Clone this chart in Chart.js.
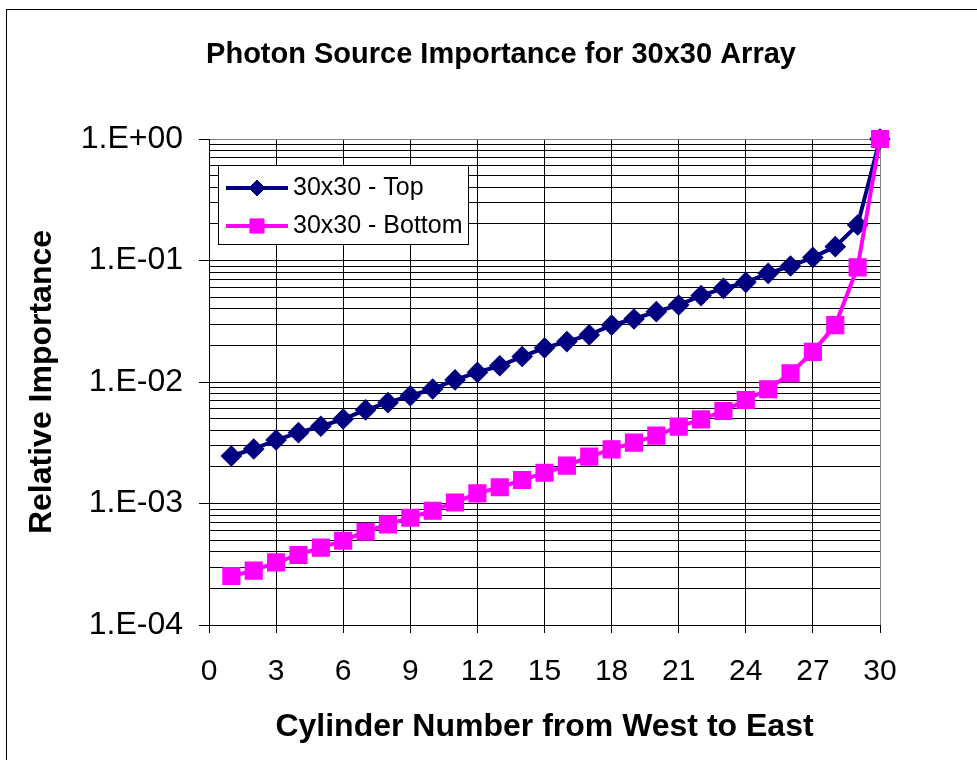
<!DOCTYPE html>
<html lang="en">

<head>
    <meta charset="UTF-8">
    <title>Photon Source Importance for 30x30 Array</title>
    <script src="https://cdn.jsdelivr.net/npm/chart.js"></script>
    <style>
        html, body { margin: 0; padding: 0; background: #fff; overflow: hidden; }
        #wrap { position: relative; width: 977px; height: 760px; }
        #frame {
            position: absolute; left: 6px; top: 9px; width: 1200px; height: 1000px;
            border: 1px solid #000; pointer-events: none;
        }
        canvas { position: absolute; left: 0; top: 0; }
    </style>
</head>

<body>
    <div id="wrap">
        <div id="frame"></div>
        <canvas id="importanceChart" width="977" height="760"></canvas>
    </div>

    <script>
        // Data
        const CHART_TITLE = 'Photon Source Importance for 30x30 Array';
        const X_TITLE = 'Cylinder Number from West to East';
        const Y_TITLE = 'Relative Importance';

        const CYLINDER = [1, 2, 3, 4, 5, 6, 7, 8, 9, 10, 11, 12, 13, 14, 15,
            16, 17, 18, 19, 20, 21, 22, 23, 24, 25, 26, 27, 28, 29, 30];

        const TOP = [0.00246, 0.00281, 0.00333, 0.00383, 0.00432, 0.00496, 0.00589, 0.00676, 0.00771, 0.00875,
            0.0104, 0.0120, 0.0136, 0.0162, 0.0191, 0.0215, 0.0244, 0.0294, 0.0330, 0.0379,
            0.0430, 0.0514, 0.0590, 0.0661, 0.0784, 0.0901, 0.106, 0.130, 0.196, 1.0];

        const BOTTOM = [0.000253, 0.000280, 0.000328, 0.000377, 0.000433, 0.000494, 0.000586, 0.000674, 0.000764, 0.000872,
            0.00102, 0.00121, 0.00136, 0.00156, 0.00179, 0.00205, 0.00243, 0.00279, 0.00317, 0.00362,
            0.00429, 0.00493, 0.00577, 0.00711, 0.00871, 0.0118, 0.0177, 0.0294, 0.0879, 1.0];

        // Decades labelled on the log axis, and the minor steps inside each decade
        const Y_DECADES = [1e-4, 1e-3, 1e-2, 1e-1, 1];
        const Y_LABELS = ['1.E-04', '1.E-03', '1.E-02', '1.E-01', '1.E+00'];
        const Y_MINOR = [2, 3, 4, 5, 6, 7, 8, 9];

        const X_MIN = 0, X_MAX = 30, X_STEP = 3;

        const FONT = "'Liberation Sans', Arial, sans-serif";

        const yTicks = [];
        Y_DECADES.forEach((d, i) => {
            yTicks.push({ value: d, major: true });
            if (i < Y_DECADES.length - 1) {
                Y_MINOR.forEach(m => yTicks.push({ value: +(d * m).toPrecision(3), major: false }));
            }
        });

        const toPoints = vals => vals.map((v, i) => ({ x: CYLINDER[i], y: v }));

        // Main title, centred like the original (not over the canvas)
        const titlePlugin = {
            id: 'titleText',
            afterDraw(chart) {
                const ctx = chart.ctx;
                ctx.save();
                ctx.font = 'bold 29px ' + FONT;
                ctx.fillStyle = '#000';
                ctx.textAlign = 'center';
                ctx.textBaseline = 'middle';
                ctx.fillText(CHART_TITLE, 501, 55);
                ctx.restore();
            }
        };

        // Boxed legend inside the plot area, top left
        const boxLegend = {
            id: 'boxLegend',
            afterDatasetsDraw(chart) {
                const ctx = chart.ctx;
                const box = { x: 218, y: 165, w: 250, h: 79 };
                ctx.save();
                ctx.fillStyle = '#fff';
                ctx.fillRect(box.x, box.y, box.w, box.h);
                ctx.strokeStyle = '#000';
                ctx.lineWidth = 1;
                ctx.strokeRect(box.x + 0.5, box.y + 0.5, box.w, box.h);

                const rows = [188, 226];
                chart.data.datasets.forEach((ds, i) => {
                    const y = rows[i];
                    ctx.strokeStyle = ds.borderColor;
                    ctx.lineWidth = ds.borderWidth;
                    ctx.beginPath();
                    ctx.moveTo(226, y);
                    ctx.lineTo(288, y);
                    ctx.stroke();
                    ctx.fillStyle = ds.pointBackgroundColor;
                    ctx.strokeStyle = ds.pointBorderColor;
                    ctx.lineWidth = 1;
                    Chart.helpers.drawPoint(ctx, {
                        pointStyle: ds.pointStyle, radius: ds.pointRadius, rotation: 0, borderWidth: 1
                    }, 257, y);
                    ctx.fillStyle = '#000';
                    ctx.font = '25px ' + FONT;
                    ctx.textAlign = 'left';
                    ctx.textBaseline = 'middle';
                    ctx.fillText(ds.label, 293, y);
                });
                ctx.restore();
            }
        };

        const ctx = document.getElementById('importanceChart').getContext('2d');

        const importanceChart = new Chart(ctx, {
            type: 'line',
            data: {
                datasets: [{
                    label: '30x30 - Top',
                    data: toPoints(TOP),
                    borderColor: '#000080',
                    backgroundColor: '#000080',
                    pointBackgroundColor: '#000080',
                    pointBorderColor: '#000080',
                    borderWidth: 4,
                    pointStyle: 'rectRot',
                    pointRadius: 8,
                    tension: 0,
                    clip: false,
                    order: 1
                }, {
                    label: '30x30 - Bottom',
                    data: toPoints(BOTTOM),
                    borderColor: '#ff00ff',
                    backgroundColor: '#ff00ff',
                    pointBackgroundColor: '#ff00ff',
                    pointBorderColor: '#ff00ff',
                    borderWidth: 4,
                    pointStyle: 'rect',
                    pointRadius: 10,
                    tension: 0,
                    clip: false,
                    order: 0
                }]
            },
            options: {
                responsive: false,
                animation: false,
                layout: { padding: { left: 0, right: 97, top: 139, bottom: 0 } },
                plugins: {
                    legend: { display: false },
                    title: { display: false },
                    tooltip: { enabled: false }
                },
                scales: {
                    x: {
                        type: 'linear',
                        min: X_MIN,
                        max: X_MAX,
                        afterFit: s => { s.height = 135; },
                        ticks: {
                            stepSize: X_STEP,
                            color: '#000',
                            padding: 21,
                            font: { family: FONT, size: 30 }
                        },
                        grid: {
                            color: c => (c.tick && c.tick.value === X_MAX) ? '#808080' : '#000',
                            tickColor: '#000',
                            tickLength: 8,
                            lineWidth: 1
                        },
                        border: { color: '#000', width: 1 },
                        title: {
                            display: true,
                            text: X_TITLE,
                            color: '#000',
                            font: { family: FONT, size: 32, weight: 'bold' },
                            padding: { top: 0, bottom: 14 }
                        }
                    },
                    y: {
                        type: 'logarithmic',
                        min: Y_DECADES[0],
                        max: Y_DECADES[Y_DECADES.length - 1],
                        afterFit: s => { s.width = 209; },
                        afterBuildTicks: s => { s.ticks = yTicks.map(t => ({ value: t.value, major: t.major })); },
                        ticks: {
                            autoSkip: false,
                            color: '#000',
                            padding: 16,
                            font: { family: FONT, size: 32 },
                            callback: value => {
                                const i = Y_DECADES.findIndex(d => Math.abs(d - value) / d < 1e-6);
                                return i >= 0 ? Y_LABELS[i] : '';
                            }
                        },
                        grid: {
                            color: c => (c.tick && c.tick.value === 1) ? '#808080' : '#000',
                            tickColor: c => (c.tick && c.tick.major) ? '#000' : 'rgba(0,0,0,0)',
                            tickLength: 10,
                            lineWidth: 1
                        },
                        border: { color: '#000', width: 1 },
                        title: {
                            display: true,
                            text: Y_TITLE,
                            color: '#000',
                            font: { family: FONT, size: 32, weight: 'bold' },
                            padding: { top: 23, bottom: 0 }
                        }
                    }
                }
            },
            plugins: [boxLegend, titlePlugin]
        });
    </script>
</body>

</html>
